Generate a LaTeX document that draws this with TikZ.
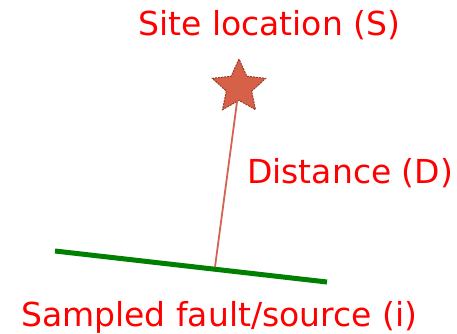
\documentclass[tikz,border=0pt]{standalone}
\usepackage{fontspec}
\setmainfont{DejaVu Sans}
\usetikzlibrary{shapes.geometric}
\definecolor{labelred}{RGB}{255,0,0}
\definecolor{starfill}{RGB}{214,96,72}
\definecolor{staredge}{RGB}{150,60,45}
\definecolor{distline}{RGB}{210,100,80}
\definecolor{faultgreen}{RGB}{0,128,0}
\begin{document}
\begin{tikzpicture}[x=1pt,y=-1pt,
  label/.style={text=labelred,font=\fontsize{33}{40}\selectfont,inner sep=0pt,anchor=base west},
  sitestar/.style={star,star points=5,star point ratio=2.1,minimum size=56pt,inner sep=0pt,
    fill=starfill,draw=staredge,line width=1pt,dash pattern=on 2pt off 1pt}]
\useasboundingbox (0,0) rectangle (457,333);
\coordinate (fa) at (55,251);
\coordinate (fb) at (327,282);
\coordinate (foot) at (215,267);
\draw[faultgreen,line width=5pt] (fa) -- (fb);
\node[sitestar] (site) at (239,87) {};
\draw[distline,line width=1.8pt] (site.center) -- (foot);
\node[label] (sitelbl) at (138,35) {Site location (S)};
\node[label] (distlbl) at (247,183) {Distance (D)};
\node[label] (faultlbl) at (21,326) {Sampled fault/source (i)};
\end{tikzpicture}
\end{document}
